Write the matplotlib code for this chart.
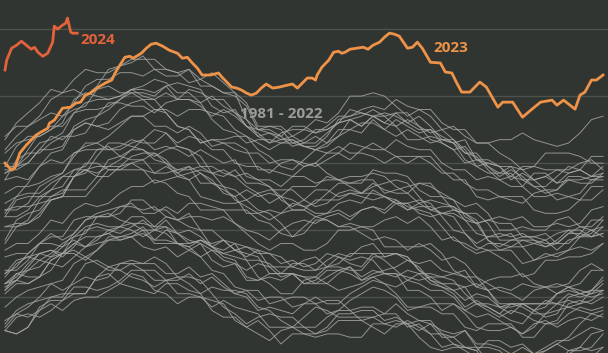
import matplotlib
matplotlib.use('Agg')
import matplotlib.pyplot as plt

# daily sea surface temperature, degC (weekly samples for the past years)
gray_days = [1, 8, 15, 22, 29, 36, 43, 50, 57, 64, 71, 78, 85, 92, 99, 106, 113, 120,
             127, 134, 141, 148, 155, 162, 169, 176, 183, 190, 197, 204, 211, 218, 225,
             232, 239, 246, 253, 260, 267, 274, 281, 288, 295, 302, 309, 316, 323, 330,
             337, 344, 351, 358, 365]

y1981 = [20.20, 20.24, 20.25, 20.24, 20.26, 20.29, 20.31, 20.31, 20.36, 20.37, 20.34, 20.33, 20.32, 20.31, 20.34, 20.34, 20.32, 20.31, 20.26, 20.24, 20.24, 20.21, 20.23, 20.20, 20.16, 20.19, 20.19, 20.18, 20.19, 20.19, 20.18, 20.18, 20.22, 20.22, 20.23, 20.22, 20.18, 20.15, 20.14, 20.15, 20.15, 20.14, 20.10, 20.06, 20.07, 20.09, 20.09, 20.09, 20.12, 20.13, 20.11, 20.12, 20.15]
y1982 = [20.20, 20.19, 20.21, 20.26, 20.28, 20.26, 20.29, 20.30, 20.30, 20.32, 20.34, 20.37, 20.36, 20.32, 20.31, 20.28, 20.30, 20.30, 20.29, 20.28, 20.23, 20.21, 20.19, 20.17, 20.20, 20.21, 20.21, 20.19, 20.20, 20.23, 20.23, 20.23, 20.21, 20.19, 20.22, 20.22, 20.23, 20.23, 20.19, 20.16, 20.15, 20.14, 20.17, 20.17, 20.15, 20.16, 20.13, 20.14, 20.16, 20.18, 20.22, 20.25, 20.24]
y1983 = [20.27, 20.30, 20.32, 20.33, 20.34, 20.35, 20.40, 20.42, 20.40, 20.38, 20.38, 20.40, 20.40, 20.42, 20.40, 20.36, 20.34, 20.31, 20.33, 20.32, 20.32, 20.31, 20.27, 20.26, 20.23, 20.21, 20.24, 20.27, 20.26, 20.24, 20.24, 20.24, 20.24, 20.25, 20.25, 20.21, 20.22, 20.19, 20.15, 20.16, 20.14, 20.12, 20.13, 20.13, 20.13, 20.09, 20.10, 20.12, 20.10, 20.13, 20.15, 20.14, 20.15]
y1984 = [20.23, 20.25, 20.24, 20.26, 20.30, 20.31, 20.31, 20.31, 20.36, 20.39, 20.38, 20.36, 20.35, 20.33, 20.35, 20.36, 20.36, 20.35, 20.31, 20.27, 20.25, 20.22, 20.24, 20.25, 20.24, 20.24, 20.21, 20.21, 20.24, 20.26, 20.26, 20.23, 20.24, 20.22, 20.21, 20.23, 20.21, 20.19, 20.19, 20.18, 20.15, 20.15, 20.11, 20.09, 20.12, 20.13, 20.12, 20.10, 20.10, 20.14, 20.14, 20.15, 20.19]
y1985 = [20.20, 20.19, 20.21, 20.27, 20.29, 20.29, 20.33, 20.33, 20.32, 20.33, 20.35, 20.38, 20.38, 20.35, 20.35, 20.31, 20.31, 20.30, 20.27, 20.29, 20.27, 20.26, 20.25, 20.21, 20.21, 20.21, 20.19, 20.19, 20.21, 20.25, 20.25, 20.26, 20.26, 20.23, 20.24, 20.22, 20.20, 20.22, 20.20, 20.19, 20.20, 20.16, 20.16, 20.15, 20.13, 20.15, 20.13, 20.15, 20.17, 20.17, 20.19, 20.21, 20.20]
y1986 = [20.21, 20.25, 20.27, 20.30, 20.34, 20.32, 20.34, 20.36, 20.35, 20.36, 20.40, 20.40, 20.38, 20.38, 20.35, 20.35, 20.37, 20.34, 20.36, 20.33, 20.31, 20.30, 20.26, 20.27, 20.26, 20.25, 20.28, 20.28, 20.25, 20.26, 20.29, 20.31, 20.33, 20.32, 20.30, 20.26, 20.27, 20.27, 20.25, 20.25, 20.21, 20.20, 20.22, 20.22, 20.22, 20.18, 20.18, 20.22, 20.22, 20.25, 20.27, 20.26, 20.27]
y1987 = [20.31, 20.34, 20.34, 20.36, 20.41, 20.43, 20.44, 20.42, 20.44, 20.47, 20.47, 20.48, 20.50, 20.46, 20.46, 20.46, 20.45, 20.47, 20.45, 20.42, 20.41, 20.36, 20.35, 20.36, 20.35, 20.37, 20.36, 20.34, 20.34, 20.37, 20.39, 20.36, 20.38, 20.37, 20.36, 20.38, 20.37, 20.34, 20.33, 20.31, 20.27, 20.29, 20.27, 20.25, 20.28, 20.28, 20.26, 20.24, 20.25, 20.30, 20.31, 20.30, 20.31]
y1988 = [20.34, 20.35, 20.38, 20.41, 20.40, 20.39, 20.42, 20.45, 20.46, 20.47, 20.48, 20.48, 20.45, 20.44, 20.45, 20.42, 20.44, 20.42, 20.38, 20.37, 20.33, 20.32, 20.32, 20.28, 20.29, 20.30, 20.30, 20.28, 20.29, 20.29, 20.26, 20.27, 20.27, 20.25, 20.28, 20.25, 20.23, 20.22, 20.18, 20.18, 20.20, 20.15, 20.15, 20.14, 20.11, 20.13, 20.12, 20.14, 20.16, 20.14, 20.15, 20.19, 20.20]
y1989 = [20.22, 20.26, 20.28, 20.29, 20.30, 20.30, 20.35, 20.40, 20.41, 20.39, 20.40, 20.41, 20.40, 20.40, 20.37, 20.37, 20.39, 20.36, 20.37, 20.34, 20.31, 20.32, 20.29, 20.30, 20.30, 20.27, 20.28, 20.30, 20.28, 20.28, 20.31, 20.33, 20.35, 20.34, 20.31, 20.27, 20.27, 20.28, 20.28, 20.28, 20.25, 20.21, 20.20, 20.20, 20.21, 20.19, 20.22, 20.23, 20.21, 20.23, 20.24, 20.23, 20.25]
y1990 = [20.34, 20.37, 20.36, 20.36, 20.38, 20.43, 20.46, 20.45, 20.48, 20.49, 20.47, 20.48, 20.49, 20.47, 20.50, 20.49, 20.47, 20.46, 20.41, 20.39, 20.40, 20.38, 20.40, 20.39, 20.36, 20.37, 20.34, 20.35, 20.38, 20.38, 20.37, 20.35, 20.37, 20.38, 20.39, 20.41, 20.39, 20.35, 20.33, 20.32, 20.29, 20.31, 20.30, 20.27, 20.28, 20.27, 20.25, 20.25, 20.28, 20.31, 20.30, 20.31, 20.34]
y1991 = [20.33, 20.35, 20.39, 20.43, 20.44, 20.43, 20.46, 20.48, 20.48, 20.49, 20.51, 20.54, 20.54, 20.51, 20.51, 20.46, 20.46, 20.47, 20.46, 20.47, 20.44, 20.43, 20.42, 20.37, 20.37, 20.37, 20.36, 20.36, 20.39, 20.42, 20.41, 20.42, 20.41, 20.37, 20.37, 20.36, 20.35, 20.36, 20.34, 20.32, 20.33, 20.28, 20.28, 20.27, 20.25, 20.28, 20.28, 20.28, 20.28, 20.27, 20.28, 20.32, 20.32]
y1992 = [20.36, 20.40, 20.42, 20.43, 20.44, 20.42, 20.45, 20.50, 20.51, 20.50, 20.51, 20.50, 20.48, 20.50, 20.49, 20.46, 20.45, 20.42, 20.44, 20.43, 20.42, 20.41, 20.36, 20.34, 20.31, 20.31, 20.35, 20.36, 20.34, 20.32, 20.33, 20.34, 20.36, 20.37, 20.37, 20.32, 20.32, 20.30, 20.26, 20.28, 20.26, 20.24, 20.25, 20.23, 20.21, 20.19, 20.21, 20.25, 20.26, 20.27, 20.26, 20.25, 20.26]
y1993 = [20.32, 20.35, 20.34, 20.36, 20.41, 20.43, 20.43, 20.41, 20.44, 20.48, 20.48, 20.49, 20.51, 20.47, 20.47, 20.46, 20.44, 20.46, 20.44, 20.41, 20.40, 20.35, 20.35, 20.37, 20.37, 20.37, 20.34, 20.34, 20.36, 20.38, 20.39, 20.35, 20.36, 20.34, 20.33, 20.35, 20.34, 20.32, 20.32, 20.30, 20.26, 20.28, 20.26, 20.24, 20.26, 20.25, 20.23, 20.22, 20.23, 20.28, 20.29, 20.28, 20.30]
y1994 = [20.34, 20.36, 20.40, 20.43, 20.42, 20.43, 20.48, 20.51, 20.52, 20.51, 20.51, 20.52, 20.50, 20.50, 20.53, 20.49, 20.50, 20.48, 20.45, 20.47, 20.46, 20.45, 20.44, 20.39, 20.39, 20.39, 20.38, 20.38, 20.41, 20.43, 20.42, 20.45, 20.46, 20.42, 20.43, 20.41, 20.40, 20.41, 20.38, 20.37, 20.38, 20.33, 20.32, 20.33, 20.32, 20.34, 20.33, 20.33, 20.34, 20.33, 20.34, 20.38, 20.38]
y1995 = [20.42, 20.43, 20.43, 20.46, 20.49, 20.47, 20.49, 20.53, 20.54, 20.54, 20.57, 20.57, 20.56, 20.57, 20.54, 20.53, 20.55, 20.50, 20.50, 20.47, 20.44, 20.45, 20.43, 20.43, 20.42, 20.39, 20.41, 20.42, 20.39, 20.40, 20.43, 20.43, 20.43, 20.41, 20.38, 20.35, 20.37, 20.37, 20.36, 20.35, 20.31, 20.28, 20.27, 20.25, 20.23, 20.22, 20.26, 20.29, 20.28, 20.29, 20.28, 20.29, 20.32]
y1996 = [20.32, 20.37, 20.38, 20.39, 20.42, 20.45, 20.47, 20.45, 20.47, 20.50, 20.49, 20.51, 20.53, 20.50, 20.51, 20.49, 20.46, 20.47, 20.45, 20.44, 20.46, 20.41, 20.41, 20.40, 20.37, 20.40, 20.40, 20.38, 20.39, 20.39, 20.38, 20.38, 20.42, 20.42, 20.43, 20.42, 20.38, 20.35, 20.34, 20.34, 20.33, 20.34, 20.32, 20.28, 20.28, 20.28, 20.26, 20.27, 20.31, 20.33, 20.32, 20.31, 20.32]
y1997 = [20.37, 20.39, 20.43, 20.46, 20.46, 20.45, 20.49, 20.53, 20.55, 20.56, 20.57, 20.58, 20.55, 20.55, 20.57, 20.55, 20.58, 20.58, 20.57, 20.56, 20.52, 20.50, 20.49, 20.47, 20.50, 20.52, 20.53, 20.52, 20.54, 20.55, 20.53, 20.56, 20.57, 20.55, 20.58, 20.58, 20.59, 20.58, 20.54, 20.50, 20.49, 20.46, 20.48, 20.49, 20.48, 20.49, 20.47, 20.46, 20.46, 20.46, 20.49, 20.53, 20.53]
y1998 = [20.56, 20.57, 20.57, 20.58, 20.59, 20.60, 20.66, 20.70, 20.70, 20.68, 20.68, 20.70, 20.71, 20.73, 20.71, 20.67, 20.65, 20.60, 20.59, 20.58, 20.58, 20.59, 20.56, 20.55, 20.52, 20.48, 20.49, 20.53, 20.53, 20.51, 20.51, 20.49, 20.47, 20.48, 20.47, 20.44, 20.46, 20.44, 20.41, 20.42, 20.40, 20.36, 20.34, 20.32, 20.31, 20.29, 20.32, 20.33, 20.31, 20.32, 20.31, 20.32, 20.36]
y1999 = [20.37, 20.41, 20.42, 20.41, 20.43, 20.46, 20.48, 20.49, 20.54, 20.55, 20.53, 20.52, 20.52, 20.51, 20.54, 20.53, 20.51, 20.50, 20.45, 20.43, 20.44, 20.42, 20.44, 20.43, 20.40, 20.41, 20.39, 20.40, 20.43, 20.42, 20.40, 20.39, 20.43, 20.43, 20.43, 20.42, 20.38, 20.36, 20.36, 20.37, 20.36, 20.36, 20.32, 20.27, 20.27, 20.28, 20.28, 20.28, 20.31, 20.33, 20.31, 20.32, 20.35]
y2000 = [20.38, 20.38, 20.41, 20.46, 20.48, 20.48, 20.53, 20.54, 20.54, 20.54, 20.55, 20.59, 20.59, 20.56, 20.56, 20.53, 20.54, 20.54, 20.53, 20.54, 20.52, 20.49, 20.46, 20.44, 20.46, 20.46, 20.44, 20.44, 20.46, 20.50, 20.50, 20.51, 20.50, 20.45, 20.45, 20.45, 20.45, 20.46, 20.43, 20.38, 20.36, 20.33, 20.35, 20.36, 20.36, 20.37, 20.34, 20.33, 20.33, 20.34, 20.38, 20.40, 20.38]
y2001 = [20.44, 20.46, 20.46, 20.49, 20.53, 20.52, 20.56, 20.58, 20.57, 20.58, 20.61, 20.63, 20.63, 20.65, 20.64, 20.61, 20.60, 20.56, 20.56, 20.56, 20.56, 20.56, 20.53, 20.52, 20.49, 20.48, 20.51, 20.54, 20.53, 20.51, 20.52, 20.51, 20.51, 20.53, 20.54, 20.52, 20.54, 20.51, 20.47, 20.48, 20.45, 20.43, 20.44, 20.42, 20.40, 20.36, 20.37, 20.41, 20.41, 20.42, 20.42, 20.43, 20.46]
y2002 = [20.46, 20.51, 20.52, 20.54, 20.59, 20.60, 20.60, 20.60, 20.64, 20.68, 20.68, 20.68, 20.68, 20.64, 20.65, 20.66, 20.65, 20.67, 20.65, 20.61, 20.60, 20.55, 20.55, 20.56, 20.55, 20.58, 20.57, 20.55, 20.55, 20.58, 20.59, 20.58, 20.62, 20.60, 20.58, 20.58, 20.55, 20.54, 20.55, 20.55, 20.53, 20.52, 20.47, 20.44, 20.45, 20.47, 20.47, 20.45, 20.46, 20.49, 20.49, 20.48, 20.49]
y2003 = [20.54, 20.54, 20.56, 20.60, 20.60, 20.61, 20.66, 20.68, 20.69, 20.69, 20.69, 20.70, 20.68, 20.67, 20.69, 20.67, 20.69, 20.67, 20.64, 20.63, 20.59, 20.57, 20.55, 20.53, 20.55, 20.56, 20.56, 20.54, 20.55, 20.56, 20.54, 20.56, 20.57, 20.56, 20.59, 20.57, 20.56, 20.55, 20.51, 20.47, 20.46, 20.44, 20.46, 20.46, 20.45, 20.45, 20.41, 20.42, 20.43, 20.44, 20.48, 20.50, 20.48]
y2004 = [20.51, 20.52, 20.52, 20.55, 20.59, 20.60, 20.66, 20.68, 20.66, 20.66, 20.69, 20.72, 20.73, 20.73, 20.70, 20.68, 20.69, 20.64, 20.64, 20.62, 20.60, 20.62, 20.60, 20.61, 20.60, 20.56, 20.56, 20.59, 20.59, 20.59, 20.61, 20.61, 20.61, 20.60, 20.58, 20.56, 20.58, 20.59, 20.58, 20.57, 20.53, 20.49, 20.48, 20.48, 20.49, 20.45, 20.46, 20.47, 20.44, 20.47, 20.48, 20.49, 20.53]
y2005 = [20.55, 20.60, 20.61, 20.61, 20.64, 20.66, 20.66, 20.67, 20.72, 20.76, 20.76, 20.75, 20.74, 20.72, 20.74, 20.75, 20.74, 20.72, 20.67, 20.66, 20.68, 20.64, 20.64, 20.63, 20.60, 20.63, 20.63, 20.63, 20.66, 20.65, 20.63, 20.61, 20.63, 20.64, 20.65, 20.64, 20.60, 20.56, 20.55, 20.56, 20.55, 20.55, 20.52, 20.47, 20.47, 20.47, 20.46, 20.45, 20.47, 20.50, 20.50, 20.48, 20.49]
y2006 = [20.51, 20.51, 20.53, 20.59, 20.62, 20.63, 20.68, 20.68, 20.67, 20.69, 20.71, 20.74, 20.74, 20.71, 20.70, 20.66, 20.67, 20.68, 20.67, 20.68, 20.66, 20.63, 20.61, 20.58, 20.60, 20.59, 20.57, 20.58, 20.61, 20.64, 20.64, 20.65, 20.65, 20.61, 20.62, 20.63, 20.64, 20.64, 20.60, 20.56, 20.55, 20.52, 20.53, 20.54, 20.53, 20.54, 20.51, 20.51, 20.52, 20.51, 20.52, 20.56, 20.57]
y2007 = [20.61, 20.63, 20.63, 20.64, 20.66, 20.67, 20.72, 20.76, 20.76, 20.74, 20.74, 20.76, 20.77, 20.80, 20.79, 20.75, 20.74, 20.69, 20.69, 20.67, 20.66, 20.67, 20.65, 20.63, 20.59, 20.57, 20.59, 20.62, 20.62, 20.60, 20.61, 20.60, 20.59, 20.60, 20.59, 20.56, 20.57, 20.57, 20.55, 20.54, 20.49, 20.45, 20.44, 20.44, 20.44, 20.40, 20.41, 20.43, 20.42, 20.44, 20.45, 20.44, 20.46]
y2008 = [20.47, 20.53, 20.55, 20.56, 20.60, 20.62, 20.62, 20.62, 20.66, 20.71, 20.72, 20.71, 20.71, 20.67, 20.67, 20.68, 20.68, 20.69, 20.67, 20.63, 20.62, 20.59, 20.61, 20.62, 20.62, 20.62, 20.59, 20.57, 20.58, 20.61, 20.62, 20.61, 20.64, 20.62, 20.61, 20.61, 20.58, 20.56, 20.57, 20.57, 20.55, 20.53, 20.47, 20.45, 20.47, 20.48, 20.48, 20.47, 20.49, 20.50, 20.48, 20.48, 20.51]
y2009 = [20.56, 20.56, 20.58, 20.63, 20.65, 20.67, 20.73, 20.74, 20.74, 20.74, 20.75, 20.77, 20.76, 20.76, 20.79, 20.76, 20.78, 20.77, 20.74, 20.74, 20.70, 20.69, 20.69, 20.67, 20.70, 20.71, 20.70, 20.69, 20.71, 20.73, 20.71, 20.74, 20.76, 20.74, 20.77, 20.75, 20.74, 20.74, 20.70, 20.68, 20.68, 20.65, 20.66, 20.65, 20.63, 20.63, 20.60, 20.60, 20.61, 20.60, 20.61, 20.65, 20.65]
y2010 = [20.67, 20.69, 20.70, 20.74, 20.78, 20.77, 20.80, 20.82, 20.81, 20.82, 20.86, 20.88, 20.89, 20.89, 20.85, 20.81, 20.80, 20.76, 20.77, 20.76, 20.76, 20.74, 20.68, 20.68, 20.67, 20.66, 20.69, 20.70, 20.67, 20.65, 20.66, 20.66, 20.67, 20.66, 20.63, 20.61, 20.64, 20.63, 20.61, 20.59, 20.54, 20.52, 20.53, 20.52, 20.52, 20.48, 20.48, 20.49, 20.46, 20.49, 20.51, 20.51, 20.54]
y2011 = [20.54, 20.59, 20.60, 20.60, 20.62, 20.66, 20.68, 20.69, 20.74, 20.75, 20.72, 20.74, 20.77, 20.74, 20.75, 20.74, 20.72, 20.74, 20.72, 20.70, 20.71, 20.66, 20.65, 20.65, 20.63, 20.66, 20.66, 20.64, 20.65, 20.65, 20.64, 20.64, 20.68, 20.67, 20.67, 20.66, 20.62, 20.60, 20.60, 20.59, 20.57, 20.58, 20.55, 20.50, 20.50, 20.51, 20.50, 20.50, 20.53, 20.54, 20.51, 20.50, 20.51]
y2012 = [20.58, 20.60, 20.64, 20.69, 20.71, 20.70, 20.73, 20.75, 20.76, 20.78, 20.81, 20.84, 20.84, 20.81, 20.81, 20.79, 20.81, 20.79, 20.75, 20.76, 20.74, 20.73, 20.73, 20.70, 20.71, 20.71, 20.69, 20.70, 20.73, 20.75, 20.73, 20.73, 20.72, 20.70, 20.72, 20.72, 20.72, 20.72, 20.68, 20.65, 20.65, 20.60, 20.59, 20.60, 20.60, 20.60, 20.56, 20.55, 20.55, 20.56, 20.59, 20.63, 20.63]
y2013 = [20.65, 20.66, 20.65, 20.69, 20.73, 20.74, 20.80, 20.82, 20.81, 20.80, 20.82, 20.84, 20.84, 20.86, 20.85, 20.81, 20.80, 20.76, 20.77, 20.77, 20.78, 20.78, 20.74, 20.72, 20.69, 20.68, 20.71, 20.74, 20.73, 20.73, 20.76, 20.75, 20.74, 20.74, 20.72, 20.70, 20.72, 20.70, 20.67, 20.67, 20.64, 20.62, 20.62, 20.60, 20.59, 20.58, 20.61, 20.62, 20.59, 20.60, 20.59, 20.59, 20.62]
y2014 = [20.65, 20.71, 20.73, 20.73, 20.76, 20.78, 20.78, 20.79, 20.84, 20.88, 20.88, 20.87, 20.87, 20.85, 20.88, 20.89, 20.89, 20.88, 20.83, 20.80, 20.79, 20.76, 20.77, 20.77, 20.76, 20.77, 20.75, 20.74, 20.75, 20.78, 20.80, 20.79, 20.83, 20.80, 20.78, 20.80, 20.78, 20.76, 20.77, 20.76, 20.73, 20.72, 20.68, 20.65, 20.66, 20.65, 20.63, 20.63, 20.66, 20.69, 20.68, 20.66, 20.66]
y2015 = [20.69, 20.69, 20.72, 20.76, 20.77, 20.79, 20.85, 20.88, 20.89, 20.89, 20.90, 20.92, 20.90, 20.89, 20.91, 20.89, 20.92, 20.91, 20.89, 20.89, 20.85, 20.81, 20.78, 20.76, 20.79, 20.80, 20.80, 20.79, 20.81, 20.84, 20.84, 20.86, 20.87, 20.86, 20.89, 20.87, 20.86, 20.86, 20.82, 20.80, 20.80, 20.76, 20.76, 20.77, 20.77, 20.79, 20.77, 20.76, 20.75, 20.76, 20.79, 20.83, 20.84]
y2016 = [20.77, 20.82, 20.85, 20.88, 20.92, 20.91, 20.95, 20.98, 20.97, 20.97, 20.99, 21.01, 21.01, 21.01, 20.98, 20.97, 20.98, 20.95, 20.97, 20.94, 20.91, 20.88, 20.81, 20.81, 20.80, 20.76, 20.77, 20.80, 20.80, 20.82, 20.86, 20.85, 20.84, 20.85, 20.84, 20.82, 20.84, 20.81, 20.77, 20.76, 20.71, 20.69, 20.70, 20.69, 20.69, 20.65, 20.65, 20.66, 20.64, 20.67, 20.68, 20.66, 20.67]
y2017 = [20.69, 20.75, 20.78, 20.78, 20.80, 20.84, 20.86, 20.87, 20.92, 20.93, 20.91, 20.91, 20.91, 20.90, 20.93, 20.94, 20.93, 20.92, 20.87, 20.85, 20.86, 20.81, 20.80, 20.79, 20.77, 20.78, 20.76, 20.76, 20.79, 20.82, 20.83, 20.81, 20.84, 20.82, 20.81, 20.83, 20.81, 20.77, 20.76, 20.74, 20.70, 20.71, 20.69, 20.66, 20.68, 20.66, 20.63, 20.61, 20.62, 20.66, 20.66, 20.65, 20.66]
y2018 = [20.68, 20.68, 20.70, 20.74, 20.74, 20.75, 20.81, 20.83, 20.84, 20.86, 20.89, 20.91, 20.89, 20.86, 20.86, 20.84, 20.86, 20.86, 20.85, 20.84, 20.80, 20.78, 20.76, 20.74, 20.76, 20.76, 20.75, 20.74, 20.76, 20.80, 20.80, 20.82, 20.82, 20.80, 20.83, 20.81, 20.79, 20.80, 20.78, 20.76, 20.77, 20.71, 20.70, 20.69, 20.66, 20.69, 20.69, 20.68, 20.68, 20.67, 20.68, 20.72, 20.72]
y2019 = [20.74, 20.78, 20.81, 20.83, 20.85, 20.84, 20.88, 20.93, 20.95, 20.95, 20.97, 20.97, 20.96, 20.98, 20.96, 20.96, 20.98, 20.93, 20.93, 20.91, 20.90, 20.87, 20.80, 20.81, 20.81, 20.78, 20.80, 20.83, 20.82, 20.85, 20.90, 20.90, 20.91, 20.90, 20.87, 20.84, 20.86, 20.84, 20.80, 20.81, 20.78, 20.76, 20.76, 20.73, 20.71, 20.68, 20.69, 20.73, 20.73, 20.73, 20.72, 20.70, 20.70]
y2020 = [20.78, 20.81, 20.81, 20.84, 20.89, 20.91, 20.92, 20.90, 20.93, 20.98, 20.99, 21.00, 21.02, 20.98, 20.98, 20.97, 20.94, 20.95, 20.93, 20.91, 20.91, 20.83, 20.80, 20.80, 20.78, 20.81, 20.81, 20.79, 20.80, 20.82, 20.83, 20.81, 20.84, 20.84, 20.85, 20.85, 20.81, 20.79, 20.80, 20.77, 20.73, 20.73, 20.69, 20.67, 20.69, 20.68, 20.65, 20.62, 20.62, 20.65, 20.65, 20.66, 20.69]
y2021 = [20.67, 20.69, 20.74, 20.79, 20.81, 20.81, 20.85, 20.86, 20.86, 20.87, 20.89, 20.92, 20.92, 20.91, 20.93, 20.89, 20.89, 20.87, 20.84, 20.86, 20.84, 20.81, 20.79, 20.76, 20.77, 20.77, 20.75, 20.75, 20.78, 20.83, 20.84, 20.85, 20.84, 20.82, 20.85, 20.82, 20.80, 20.80, 20.76, 20.74, 20.75, 20.71, 20.71, 20.69, 20.65, 20.67, 20.65, 20.66, 20.68, 20.68, 20.70, 20.71, 20.68]
y2022 = [20.73, 20.76, 20.77, 20.78, 20.80, 20.82, 20.89, 20.91, 20.90, 20.89, 20.90, 20.92, 20.93, 20.95, 20.94, 20.91, 20.91, 20.88, 20.90, 20.87, 20.85, 20.83, 20.78, 20.79, 20.78, 20.75, 20.76, 20.78, 20.76, 20.78, 20.83, 20.84, 20.86, 20.84, 20.81, 20.77, 20.77, 20.78, 20.77, 20.77, 20.74, 20.69, 20.67, 20.67, 20.67, 20.63, 20.67, 20.67, 20.64, 20.65, 20.64, 20.64, 20.67]

past_years = [y1981, y1982, y1983, y1984, y1985, y1986, y1987, y1988, y1989, y1990,
              y1991, y1992, y1993, y1994, y1995, y1996, y1997, y1998, y1999, y2000,
              y2001, y2002, y2003, y2004, y2005, y2006, y2007, y2008, y2009, y2010,
              y2011, y2012, y2013, y2014, y2015, y2016, y2017, y2018, y2019, y2020,
              y2021, y2022]

days_2023 = [1, 5, 7, 10, 14, 17, 20, 23, 27, 28, 31, 36, 41, 44, 47, 50, 53, 57, 60, 62,
             66, 68, 71, 74, 77, 79, 82, 84, 87, 90, 93, 97, 101, 106, 109, 112, 115, 118, 121, 126,
             131, 133, 136, 139, 142, 145, 148, 151, 154, 157, 160, 164, 168, 173, 176, 179, 182, 185, 188, 190,
             191, 194, 198, 201, 204, 206, 208, 211, 215, 219, 222, 225, 229, 232, 235, 238, 241, 246, 249, 252,
             255, 260, 266, 269, 273, 276, 279, 284, 290, 294, 301, 304, 310, 316, 321, 327, 334, 337, 341, 348,
             351, 354, 358, 361, 365]
sst_2023 = [20.700, 20.679, 20.685, 20.730, 20.754, 20.769, 20.784, 20.793, 20.804, 20.819,
            20.828, 20.864, 20.867, 20.879, 20.882, 20.903, 20.909, 20.924, 20.933, 20.939,
            20.948, 20.969, 20.993, 21.016, 21.019, 21.013, 21.022, 21.028, 21.043, 21.055,
            21.058, 21.049, 21.037, 21.028, 21.013, 21.016, 20.999, 20.984, 20.963, 20.963,
            20.969, 20.957, 20.942, 20.927, 20.924, 20.918, 20.909, 20.903, 20.909, 20.924,
            20.936, 20.924, 20.927, 20.933, 20.936, 20.924, 20.939, 20.954, 20.954, 20.948,
            20.963, 20.987, 21.007, 21.031, 21.034, 21.028, 21.031, 21.040, 21.043, 21.046,
            21.040, 21.052, 21.061, 21.076, 21.088, 21.085, 21.079, 21.043, 21.046, 21.061,
            21.043, 21.001, 20.999, 20.972, 20.969, 20.939, 20.912, 20.912, 20.942, 20.927,
            20.867, 20.882, 20.882, 20.837, 20.858, 20.882, 20.888, 20.873, 20.888, 20.861,
            20.903, 20.912, 20.948, 20.948, 20.963]

days_2024 = [1, 2, 5, 8, 11, 14, 17, 19, 21, 24, 27, 30, 31, 33, 36, 38, 39, 41, 42, 45]
sst_2024 = [20.978, 21.007, 21.043, 21.052, 21.064, 21.052, 21.040, 21.046, 21.031, 21.019,
            21.028, 21.061, 21.109, 21.100, 21.112, 21.118, 21.133, 21.091, 21.088, 21.088]

grid_levels = [20.3, 20.5, 20.7, 20.9, 21.1]

BG = '#313531'
plt.rcParams['font.family'] = ['Open Sans', 'DejaVu Sans']

fig = plt.figure(figsize=(6.08, 3.53), dpi=100, facecolor=BG)
ax = fig.add_axes([0, 0, 1, 1])
ax.set_facecolor(BG)

for lv in grid_levels:
    ax.axhline(lv, color='#4d514c', linewidth=1.0, zorder=1)

for vals in past_years:
    ax.plot(gray_days, vals, color='#a9aaa7', linewidth=0.7, alpha=0.8, zorder=2)

ax.plot(days_2023, sst_2023, color='#ef9349', linewidth=2.0, zorder=4,
        solid_joinstyle='round')
ax.plot(days_2024, sst_2024, color='#e2623b', linewidth=2.0, zorder=5,
        solid_joinstyle='round')

ax.text(80 / 608, 1 - 40 / 353, '2024', transform=ax.transAxes, color='#e2623b',
        fontsize=11, fontweight='bold', va='center', ha='left', zorder=6)
ax.text(433 / 608, 1 - 48 / 353, '2023', transform=ax.transAxes, color='#ef9349',
        fontsize=11, fontweight='bold', va='center', ha='left', zorder=6)
ax.text(240 / 608, 1 - 114 / 353, '1981 - 2022', transform=ax.transAxes, color='#9c9d9a',
        fontsize=11, fontweight='bold', va='center', ha='left', zorder=6)

ax.set_xlim(-2.04, 368.04)
ax.set_ylim(20.133, 21.187)
ax.axis('off')

fig.savefig('out.png', dpi=100, facecolor=BG)
